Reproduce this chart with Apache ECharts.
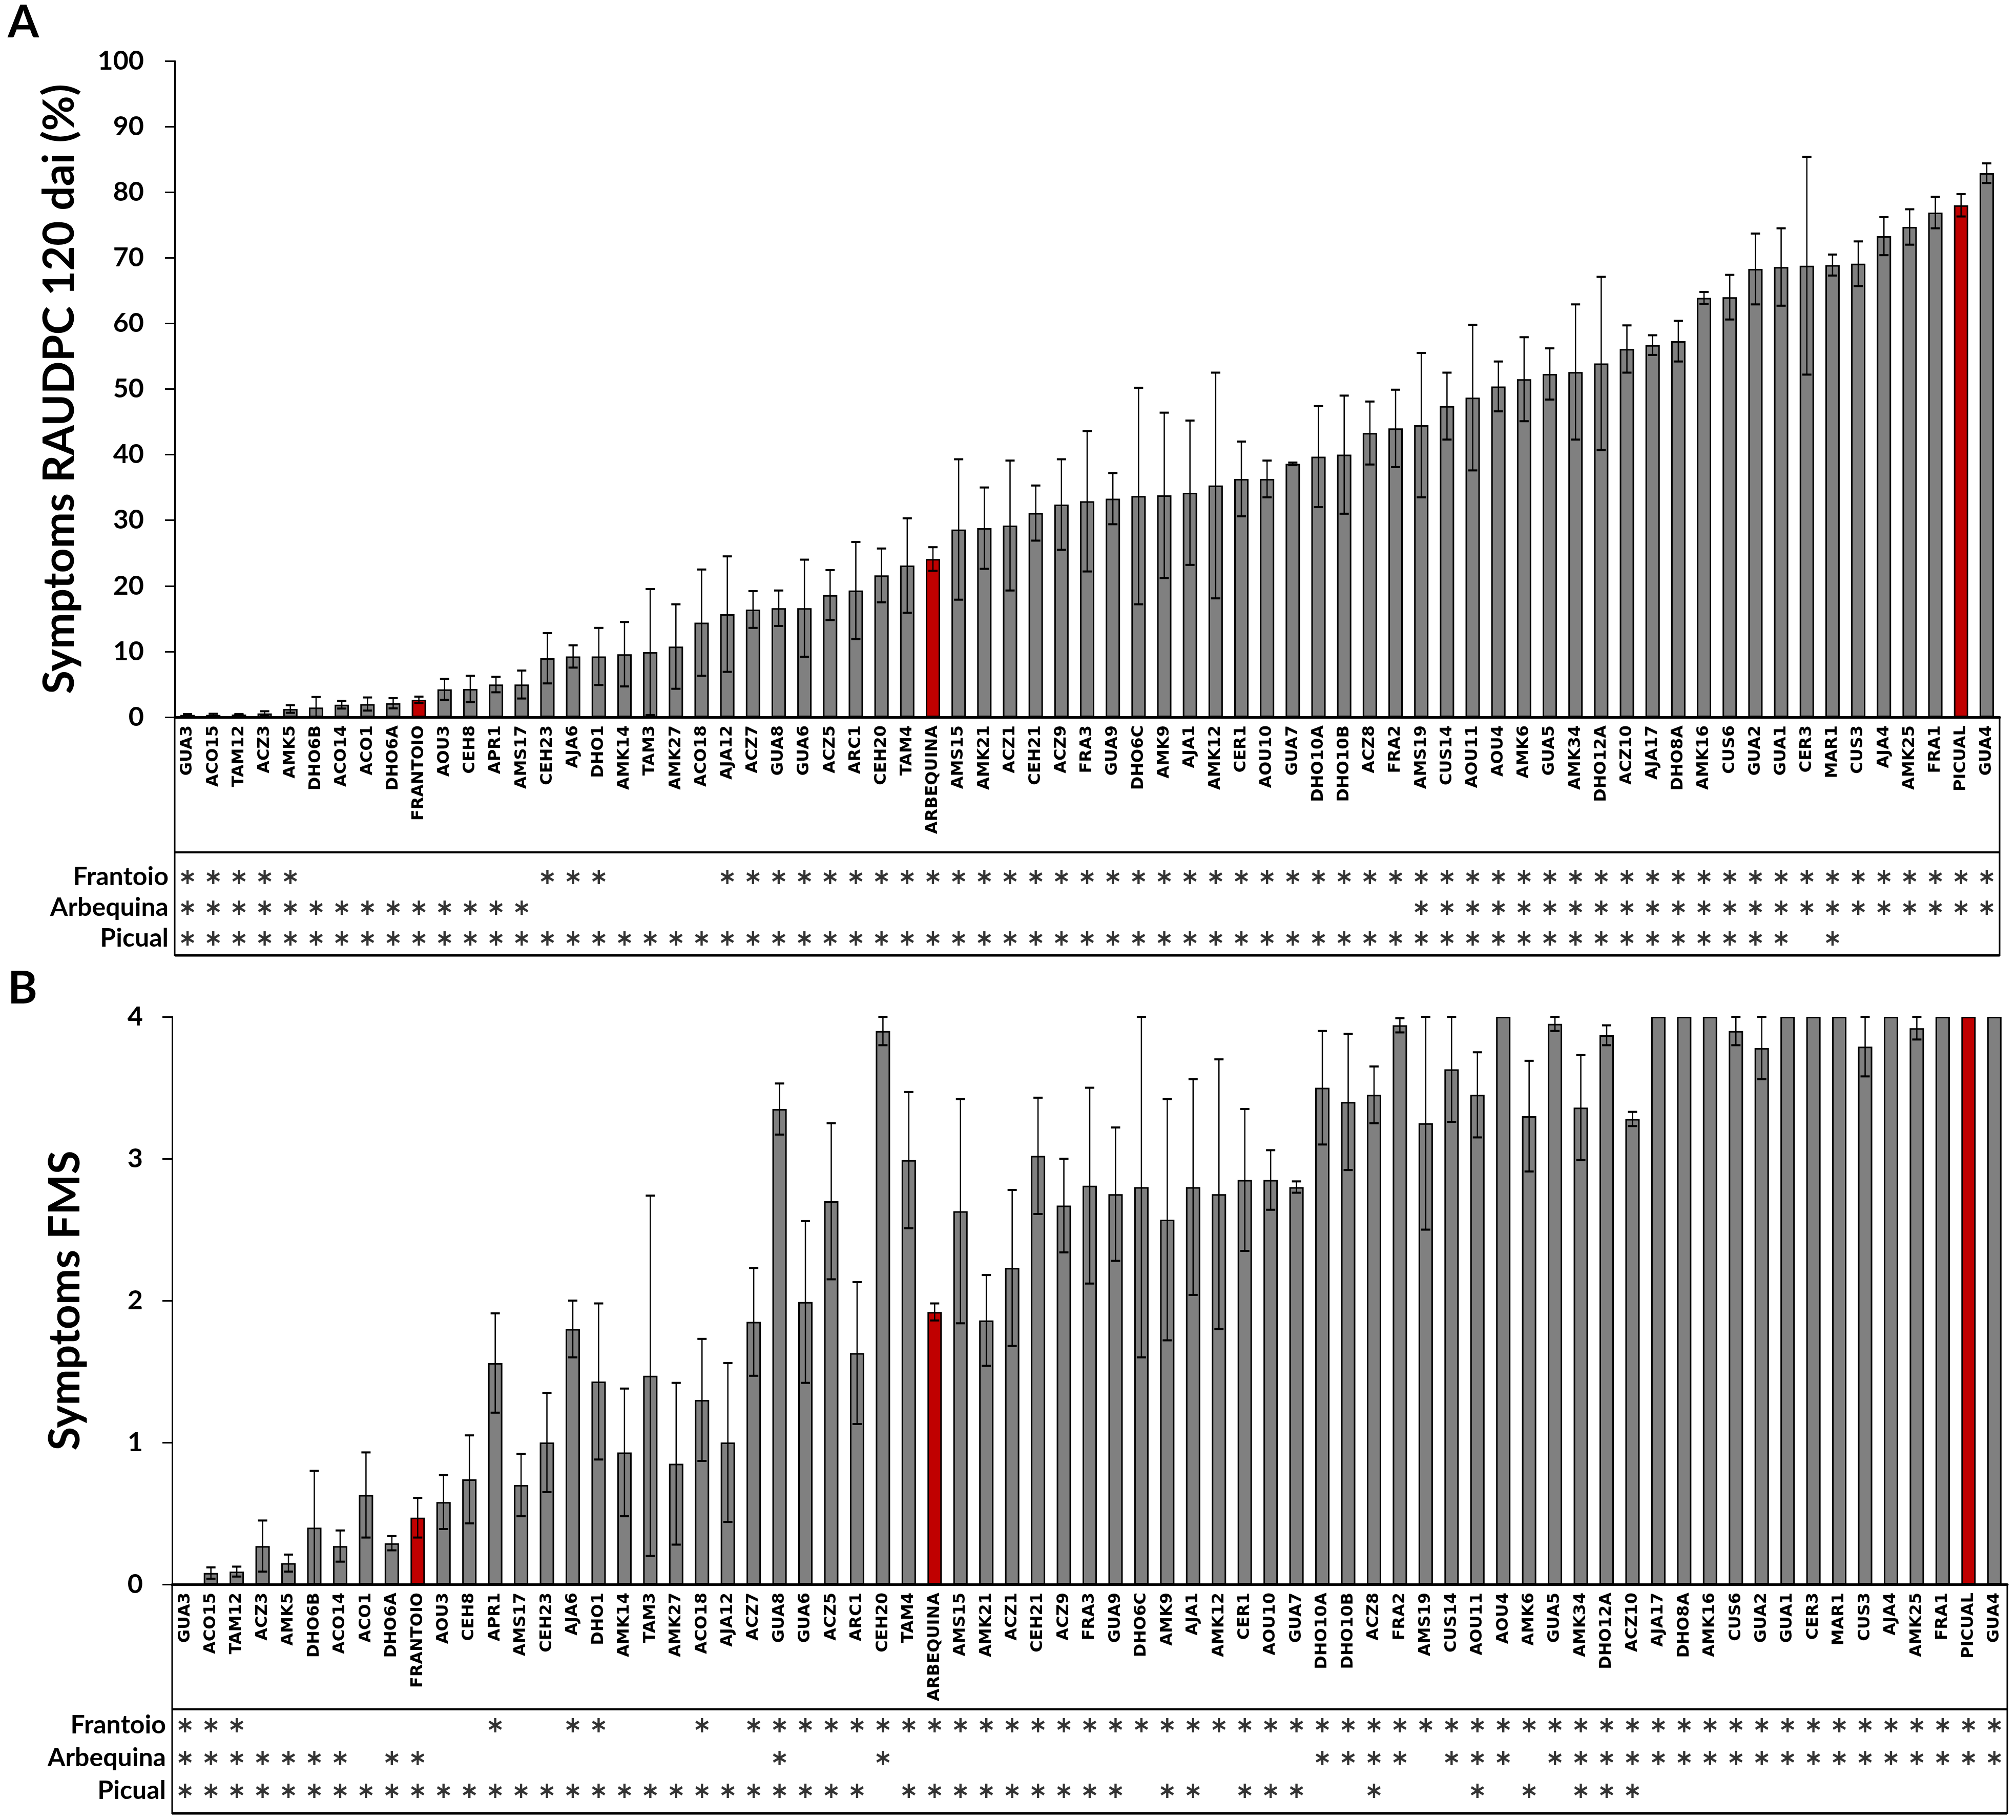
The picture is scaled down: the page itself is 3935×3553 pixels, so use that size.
<!DOCTYPE html>
<html>
<head>
<meta charset="UTF-8">
<title></title>
<style>
html,body{margin:0;padding:0;background:#fff}
#chart{width:3935px;height:3553px}
</style>
</head>
<body>
<div id="chart"></div>
<script src="https://cdn.jsdelivr.net/npm/echarts@6.0.0/dist/echarts.min.js"></script>
<script>
// cultivars in the order of panel A (same order used in B)
var cultivars = ['GUA3','ACO15','TAM12','ACZ3','AMK5','DHO6B','ACO14','ACO1','DHO6A','FRANTOIO',
	'AOU3','CEH8','APR1','AMS17','CEH23','AJA6','DHO1','AMK14','TAM3','AMK27',
	'ACO18','AJA12','ACZ7','GUA8','GUA6','ACZ5','ARC1','CEH20','TAM4','ARBEQUINA',
	'AMS15','AMK21','ACZ1','CEH21','ACZ9','FRA3','GUA9','DHO6C','AMK9','AJA1',
	'AMK12','CER1','AOU10','GUA7','DHO10A','DHO10B','ACZ8','FRA2','AMS19','CUS14',
	'AOU11','AOU4','AMK6','GUA5','AMK34','DHO12A','ACZ10','AJA17','DHO8A','AMK16',
	'CUS6','GUA2','GUA1','CER3','MAR1','CUS3','AJA4','AMK25','FRA1','PICUAL',
	'GUA4'];
var controls = ['FRANTOIO','ARBEQUINA','PICUAL'];
var rowNames = ['Frantoio','Arbequina','Picual'];

// A: RAUDPC 120 dai (%)
var raudpcMean = [0.34,0.34,0.40,0.56,1.24,1.46,1.90,2.00,2.12,2.65,
	4.24,4.30,4.97,4.97,8.97,9.25,9.25,9.59,9.92,10.76,
	14.4,15.7,16.4,16.6,16.6,18.6,19.3,21.6,23.1,24.1,
	28.6,28.8,29.2,31.1,32.4,32.9,33.3,33.7,33.8,34.2,
	35.3,36.3,36.3,38.6,39.7,40.0,43.3,44.0,44.5,47.4,
	48.7,50.4,51.5,52.3,52.6,53.9,56.1,56.7,57.3,63.9,
	64.0,68.3,68.6,68.8,68.9,69.1,73.3,74.7,76.9,78.0,
	82.9];
var raudpcErr = [0.12,0.17,0.08,0.34,0.58,1.61,0.59,1.00,0.78,0.48,
	1.59,2.00,1.18,2.13,3.83,1.70,4.35,4.91,9.60,6.44,
	8.1,8.8,2.8,2.7,7.4,3.8,7.4,4.1,7.2,1.8,
	10.7,6.2,9.9,4.2,6.9,10.7,3.9,16.5,12.6,11.0,
	17.2,5.7,2.8,0.2,7.7,9.0,4.8,5.9,11.0,5.1,
	11.1,3.8,6.4,3.9,10.3,13.2,3.6,1.5,3.1,0.9,
	3.4,5.4,5.9,16.6,1.6,3.4,2.9,2.7,2.4,1.7,
	1.5];

// B: FMS
var fmsMean = [0,0.08,0.09,0.27,0.15,0.40,0.27,0.63,0.29,0.47,
	0.58,0.74,1.56,0.70,1.00,1.80,1.43,0.93,1.47,0.85,
	1.30,1.00,1.85,3.35,1.99,2.70,1.63,3.90,2.99,1.92,
	2.63,1.86,2.23,3.02,2.67,2.81,2.75,2.80,2.57,2.80,
	2.75,2.85,2.85,2.80,3.50,3.40,3.45,3.94,3.25,3.63,
	3.45,4.00,3.30,3.95,3.36,3.87,3.28,4.00,4.00,4.00,
	3.90,3.78,4.00,4.00,4.00,3.79,4.00,3.92,4.00,4.00,
	4.00];
var fmsErr = [0,0.04,0.035,0.18,0.06,0.40,0.11,0.30,0.05,0.14,
	0.19,0.31,0.35,0.22,0.35,0.20,0.55,0.45,1.27,0.57,
	0.43,0.56,0.38,0.18,0.57,0.55,0.50,0.10,0.48,0.06,
	0.79,0.32,0.55,0.41,0.33,0.69,0.47,1.20,0.85,0.76,
	0.95,0.50,0.21,0.04,0.40,0.48,0.20,0.05,0.75,0.37,
	0.30,0,0.39,0.05,0.37,0.07,0.05,0,0,0,
	0.10,0.22,0,0,0,0.21,0,0.08,0,0,
	0];

// significance marks (1 = asterisk)
var sigA_frantoio = [1,1,1,1,1,0,0,0,0,0, 0,0,0,0,1,1,1,0,0,0, 0,1,1,1,1,1,1,1,1,1,
	1,1,1,1,1,1,1,1,1,1, 1,1,1,1,1,1,1,1,1,1, 1,1,1,1,1,1,1,1,1,1, 1,1,1,1,1,1,1,1,1,1, 1];
var sigA_arbequina = [1,1,1,1,1,1,1,1,1,1, 1,1,1,1,0,0,0,0,0,0, 0,0,0,0,0,0,0,0,0,0,
	0,0,0,0,0,0,0,0,0,0, 0,0,0,0,0,0,0,0,1,1, 1,1,1,1,1,1,1,1,1,1, 1,1,1,1,1,1,1,1,1,1, 1];
var sigA_picual = [1,1,1,1,1,1,1,1,1,1, 1,1,1,1,1,1,1,1,1,1, 1,1,1,1,1,1,1,1,1,1,
	1,1,1,1,1,1,1,1,1,1, 1,1,1,1,1,1,1,1,1,1, 1,1,1,1,1,1,1,1,1,1, 1,1,1,0,1,0,0,0,0,0, 0];
var sigB_frantoio = [1,1,1,0,0,0,0,0,0,0, 0,0,1,0,0,1,1,0,0,0, 1,0,1,1,1,1,1,1,1,1,
	1,1,1,1,1,1,1,1,1,1, 1,1,1,1,1,1,1,1,1,1, 1,1,1,1,1,1,1,1,1,1, 1,1,1,1,1,1,1,1,1,1, 1];
var sigB_arbequina = [1,1,1,1,1,1,1,0,1,1, 0,0,0,0,0,0,0,0,0,0, 0,0,0,1,0,0,0,1,0,0,
	0,0,0,0,0,0,0,0,0,0, 0,0,0,0,1,1,1,1,0,1, 1,1,0,1,1,1,1,1,1,1, 1,1,1,1,1,1,1,1,1,1, 1];
var sigB_picual = [1,1,1,1,1,1,1,1,1,1, 1,1,1,1,1,1,1,1,1,1, 1,1,1,1,1,1,1,0,1,1,
	1,1,1,1,1,1,1,0,1,1, 0,1,1,1,0,0,1,0,0,0, 1,0,1,0,1,1,1,0,0,0, 0,0,0,0,0,0,0,0,0,0, 0];

var star = 'path://M-1.6,-10L1.6,-10L1.6,10L-1.6,10Z' +
	'M7.86,-6.39L9.46,-3.61L-7.86,6.39L-9.46,3.61Z' +
	'M9.46,3.61L7.86,6.39L-9.46,-3.61L-7.86,-6.39Z';

function barData(means) {
	return means.map(function (v, i) {
		var red = controls.indexOf(cultivars[i]) >= 0;
		return {value: v, itemStyle: {color: red ? '#c00000' : '#808080'}};
	});
}
function errData(means, errs) {
	return means.map(function (v, i) { return [i, v, errs[i]]; });
}
function sigData(rows) {
	var out = [];
	rows.forEach(function (flags, r) {
		flags.forEach(function (f, i) { if (f) out.push([i, r]); });
	});
	return out;
}
function renderErr(params, api) {
	var i = api.value(0), m = api.value(1), e = api.value(2);
	if (!e) return;
	var top = api.coord([i, m + e]);
	var bot = api.coord([i, Math.max(m - e, 0)]);
	var hw = 9;
	var kids = [
		{type: 'line', shape: {x1: top[0], y1: top[1], x2: bot[0], y2: bot[1]}, style: {stroke: '#000', lineWidth: 2.5}},
		{type: 'line', shape: {x1: top[0] - hw, y1: top[1], x2: top[0] + hw, y2: top[1]}, style: {stroke: '#000', lineWidth: 4}}
	];
	if (m - e > 0) {
		kids.push({type: 'line', shape: {x1: bot[0] - hw, y1: bot[1], x2: bot[0] + hw, y2: bot[1]}, style: {stroke: '#000', lineWidth: 4}});
	}
	return {type: 'group', children: kids};
}

var font = 'Lato';
var catLabel = {interval: 0, rotate: 90, fontFamily: 'DejaVu Sans', fontWeight: 'bold', fontSize: 32, color: '#000', margin: 16};
function valueAxis(grid, max, step, name, gap, margin) {
	return {
		type: 'value', gridIndex: grid, min: 0, max: max, interval: step,
		name: name, nameLocation: 'middle', nameGap: gap,
		nameTextStyle: {fontFamily: font, fontWeight: 'bold', fontSize: 84, color: '#000'},
		axisLine: {show: true, lineStyle: {color: '#000', width: 3}},
		axisTick: {show: true, length: 19, lineStyle: {color: '#000', width: 3}},
		axisLabel: {fontFamily: font, fontWeight: 'bold', fontSize: 52, color: '#000', margin: margin},
		splitLine: {show: false}
	};
}
function rowAxis(grid) {
	return {
		type: 'category', gridIndex: grid, data: rowNames, inverse: true,
		axisLine: {show: false}, axisTick: {show: false}, splitLine: {show: false},
		axisLabel: {interval: 0, fontFamily: font, fontWeight: 'bold', fontSize: 50, color: '#000', margin: 12}
	};
}
function line(x1, y1, x2, y2, w) {
	return {type: 'line', shape: {x1: x1, y1: y1, x2: x2, y2: y2}, style: {stroke: '#000', lineWidth: w}, silent: true};
}

var chart = echarts.init(document.getElementById('chart'), null, {renderer: 'canvas'});
var option = {
	backgroundColor: '#fff',
	animation: false,
	title: [
		{text: 'A', left: 10, top: -4, textStyle: {fontFamily: font, fontWeight: 'bold', fontSize: 88, color: '#000'}},
		{text: 'B', left: 10, top: 1882, textStyle: {fontFamily: font, fontWeight: 'bold', fontSize: 88, color: '#000'}}
	],
	grid: [
		{left: 341, top: 119, width: 3562, height: 1281, outerBoundsMode: 'none'},
		{left: 341, top: 1682, width: 3562, height: 180, outerBoundsMode: 'none'},
		{left: 336, top: 1985, width: 3582, height: 1108, outerBoundsMode: 'none'},
		{left: 336, top: 3336, width: 3582, height: 192, outerBoundsMode: 'none'}
	],
	xAxis: [
		{type: 'category', gridIndex: 0, data: cultivars, axisLine: {lineStyle: {color: '#000', width: 5}}, axisTick: {show: false}, axisLabel: catLabel},
		{type: 'category', gridIndex: 1, data: cultivars, show: false},
		{type: 'category', gridIndex: 2, data: cultivars, axisLine: {lineStyle: {color: '#000', width: 5}}, axisTick: {show: false}, axisLabel: catLabel},
		{type: 'category', gridIndex: 3, data: cultivars, show: false}
	],
	yAxis: [
		valueAxis(0, 100, 10, 'Symptoms RAUDPC 120 dai (%)', 182, 60),
		rowAxis(1),
		valueAxis(2, 4, 1, 'Symptoms FMS', 166, 57),
		rowAxis(3)
	],
	series: [
		{type: 'bar', xAxisIndex: 0, yAxisIndex: 0, barWidth: 28, data: barData(raudpcMean),
			itemStyle: {borderColor: '#000', borderWidth: 3}},
		{type: 'custom', xAxisIndex: 0, yAxisIndex: 0, z: 5, renderItem: renderErr, data: errData(raudpcMean, raudpcErr)},
		{type: 'scatter', xAxisIndex: 1, yAxisIndex: 1, symbol: star, symbolSize: [26, 28],
			itemStyle: {color: '#000'}, data: sigData([sigA_frantoio, sigA_arbequina, sigA_picual])},
		{type: 'bar', xAxisIndex: 2, yAxisIndex: 2, barWidth: 28, data: barData(fmsMean),
			itemStyle: {borderColor: '#000', borderWidth: 3}},
		{type: 'custom', xAxisIndex: 2, yAxisIndex: 2, z: 5, renderItem: renderErr, data: errData(fmsMean, fmsErr)},
		{type: 'scatter', xAxisIndex: 3, yAxisIndex: 3, symbol: star, symbolSize: [26, 28],
			itemStyle: {color: '#000'}, data: sigData([sigB_frantoio, sigB_arbequina, sigB_picual])}
	],
	graphic: [
		// table frame under panel A
		line(341, 1400, 341, 1866, 3),
		line(3903, 1400, 3903, 1866, 3),
		line(341, 1664, 3903, 1664, 4),
		line(341, 1865, 3903, 1865, 5),
		// table frame under panel B
		line(336, 3093, 336, 3541, 3),
		line(3918, 3093, 3918, 3541, 3),
		line(336, 3337, 3918, 3337, 4),
		line(336, 3540, 3918, 3540, 5)
	]
};
chart.setOption(option);
</script>
</body>
</html>
